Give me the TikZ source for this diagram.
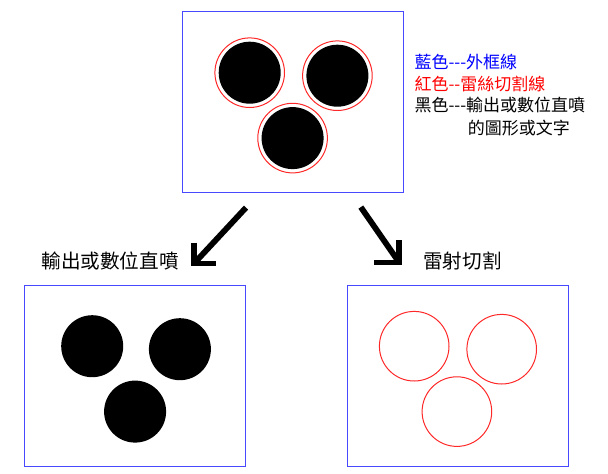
\documentclass[tikz,border=0pt]{standalone}
\usepackage{fontspec}
\newfontfamily\cjk{Noto Sans CJK TC}
\definecolor{frameblue}{RGB}{72,72,255}
\definecolor{cutred}{RGB}{255,40,40}
\tikzset{
  panel/.style={draw=frameblue, line width=1.2pt, minimum width=221pt, minimum height=181pt, inner sep=0pt},
  cutline/.style={draw=cutred, line width=1pt},
  bigarrow/.style={line width=5.8pt, miter limit=4},
  legend/.style={font=\cjk\fontsize{17}{20}\selectfont, inner sep=0pt, anchor=west},
  caption/.style={font=\cjk\fontsize{19.6}{24}\selectfont, inner sep=0pt},
}

\begin{document}
\begin{tikzpicture}[x=1pt,y=-1pt]
\useasboundingbox (0,0) rectangle (608,474);

% Frames (blue outlines)
\node[panel] (top) at (293,102) {};
\node[panel] (out) at (135,376) {};
\node[panel] (cut) at (458,376) {};

% Artwork in the top frame: black shapes with red cut lines round them
\foreach \dx/\dy in {67.8/61.8, 155.5/64.8, 110.7/127.2} {
  \fill ([shift={(\dx,\dy)}]top.north west) circle[radius=31];
  \draw[cutline] ([shift={(\dx,\dy)}]top.north west) circle[radius=34.8];
}

% Output / direct print: black shapes only
\foreach \dx/\dy in {68.3/61.3, 156/64.3, 111.2/126.7}
  \fill ([shift={(\dx,\dy)}]out.north west) circle[radius=31];

% Laser cut: red lines only
\foreach \dx/\dy in {67.3/61.3, 154.8/64.3, 110/126.7}
  \draw[cutline] ([shift={(\dx,\dy)}]cut.north west) circle[radius=34.8];

% Legend
\node[legend, text=blue] (blueline) at (414.3,62.5) {藍色---外框線};
\node[legend, text=red] (redline) at (414.3,84) {紅色--雷絲切割線};
\node[legend] (blackline) at (414.3,105.5) {黑色---輸出或數位直噴};
\node[legend] (blackmore) at (467.6,128.3) {的圖形或文字};

% Arrows
\coordinate (outtip) at (194,263.5);
\coordinate (cuttip) at (399.2,262.5);
\draw[bigarrow] ([shift={(-47,14.5)}]top.south) -- (outtip);
\draw[bigarrow] ([shift={(0,-21)}]outtip) |- ([shift={(22,0)}]outtip);
\draw[bigarrow] ([shift={(67.8,14)}]top.south) -- (cuttip);
\draw[bigarrow] ([shift={(0,-22.5)}]cuttip) |- ([shift={(-25,0)}]cuttip);

% Labels for the two results
\node[caption] (outlabel) at (110,261.5) {輸出或數位直噴};
\node[caption] (cutlabel) at (462.5,261) {雷射切割};

\end{tikzpicture}
\end{document}
